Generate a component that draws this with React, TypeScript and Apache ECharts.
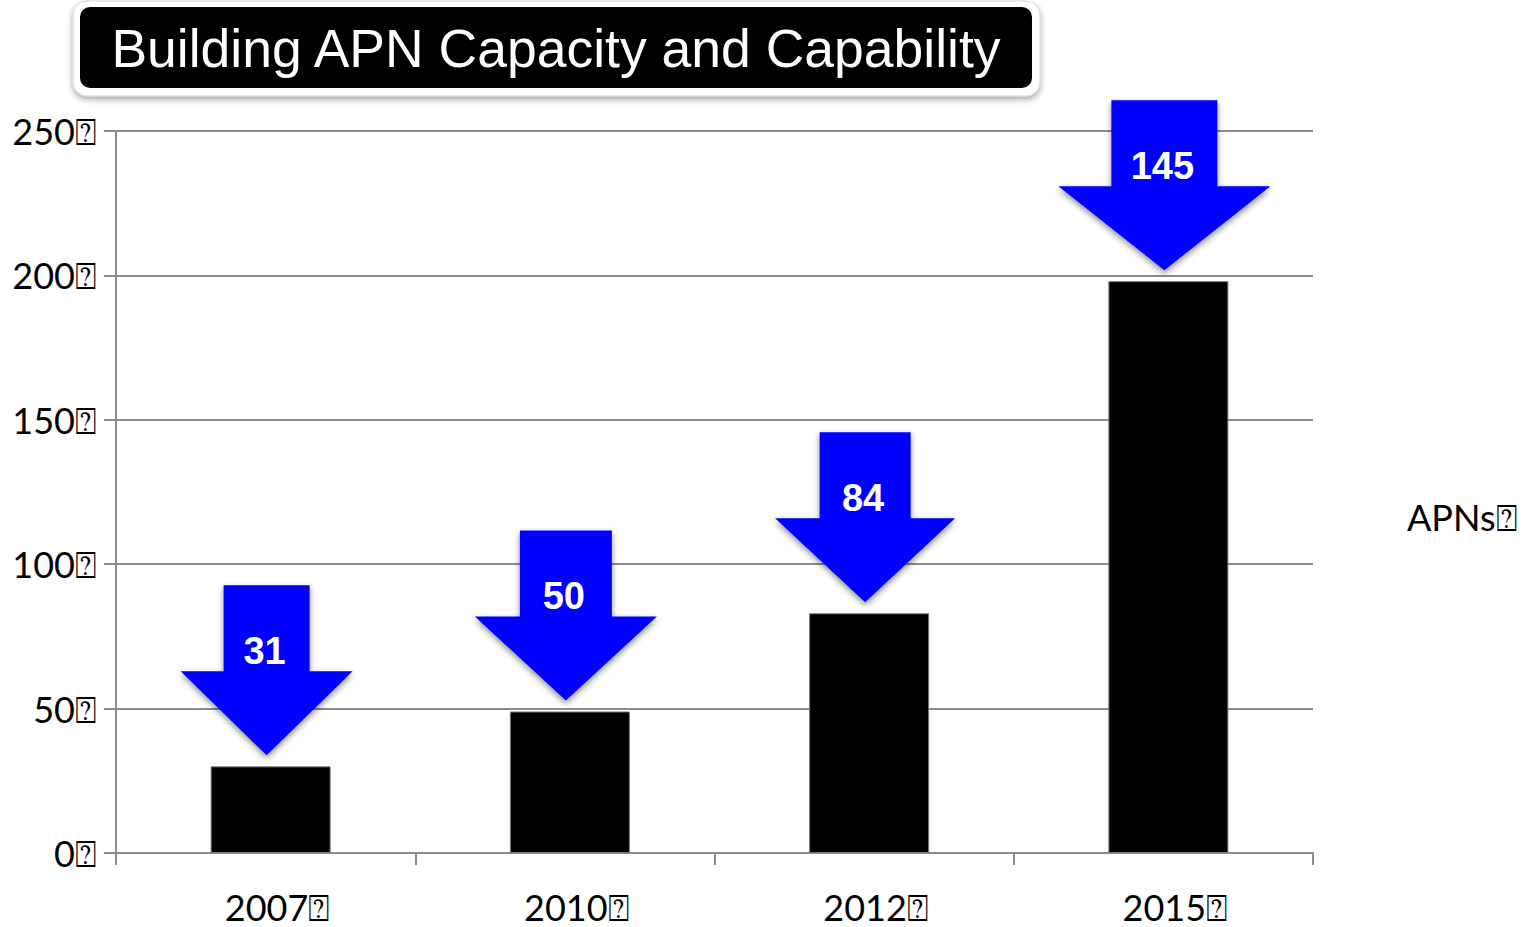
import React, { useEffect, useRef } from "react";
import * as echarts from "echarts";

const BOX = "\u2370";
const categories = ["2007" + BOX, "2010" + BOX, "2012" + BOX, "2015" + BOX];
const apnCounts = [30, 49, 83, 198];
const arrowLabels = [31, 50, 84, 145];
const seriesName = "APNs" + BOX;
const titleText = "Building APN Capacity and Capability";

// arrow styling (sizes in px, not data)
const headWidths = [172, 182, 180, 212];
const shaftWidths = [86, 92, 91, 106];

export default function App() {
  const ref = useRef<HTMLDivElement>(null);
  useEffect(() => {
    const chart = echarts.init(ref.current!, null, { renderer: "svg" });
    const axisFont = "Lato";
    chart.setOption({
      animation: false,
      backgroundColor: "#ffffff",
      grid: { left: 116, right: 211, top: 131, bottom: 74, containLabel: false },
      legend: {
        show: true,
        data: [seriesName],
        left: 1396,
        top: 494,
        itemWidth: 0,
        itemHeight: 0,
        icon: "rect",
        textStyle: { fontFamily: axisFont, fontSize: 36, color: "#000" },
      },
      xAxis: {
        type: "category",
        data: categories,
        boundaryGap: true,
        axisLine: { show: true, lineStyle: { color: "#8c8c8c", width: 2 } },
        axisTick: { show: true, length: 12, lineStyle: { color: "#8c8c8c", width: 2 } },
        axisLabel: {
          fontFamily: axisFont,
          fontSize: 36,
          lineHeight: 34,
          color: "#000",
          margin: 37,
          padding: [0, 0, 0, 24],
        },
        splitLine: { show: false },
      },
      yAxis: {
        type: "value",
        min: 0,
        max: 250,
        interval: 50,
        axisLine: { show: true, lineStyle: { color: "#8c8c8c", width: 2 } },
        axisTick: { show: true, length: 12, lineStyle: { color: "#8c8c8c", width: 2 } },
        axisLabel: {
          fontFamily: axisFont,
          fontSize: 36,
          lineHeight: 36,
          color: "#000",
          margin: 19,
          padding: [8, 0, 0, 0],
          formatter: (v: number) => v + BOX,
        },
        splitLine: { show: true, lineStyle: { color: "#8c8c8c", width: 2 } },
      },
      graphic: [
        {
          type: "rect",
          shape: { x: 73, y: 1, width: 967, height: 95, r: 14 },
          style: {
            fill: "#ffffff",
            stroke: "#d8d8d8",
            lineWidth: 1,
            shadowBlur: 6,
            shadowColor: "rgba(0,0,0,0.35)",
            shadowOffsetY: 3,
          },
          z: 10,
        },
        {
          type: "rect",
          shape: { x: 80, y: 7, width: 952, height: 81, r: 10 },
          style: { fill: "#000000" },
          z: 11,
        },
        {
          type: "text",
          x: 556,
          y: 48,
          style: {
            text: titleText,
            fill: "#ffffff",
            font: '53.5px "Liberation Sans", Arial, sans-serif',
            align: "center",
            verticalAlign: "middle",
          },
          z: 12,
        },
      ],
      series: [
        {
          name: "spacer",
          type: "bar",
          data: categories.map(() => "-"),
          barWidth: 10,
          barGap: 0,
          silent: true,
        },
        {
          name: seriesName,
          type: "bar",
          data: apnCounts,
          barWidth: 120,
          barGap: 0,
          itemStyle: { color: "#000000", borderColor: "#777777", borderWidth: 1 },
          z: 2,
        },
        {
          name: "arrows",
          type: "custom",
          data: categories.map((c, i) => [i, apnCounts[i], arrowLabels[i]]),
          encode: { x: 0, y: 1 },
          clip: false,
          z: 5,
          renderItem: (params: any, api: any) => {
            const i = params.dataIndex;
            const p = api.coord([api.value(0), api.value(1)]);
            const cx = p[0] + 1;
            const tipY = p[1] - 11;
            const hw = headWidths[i] / 2;
            const sw = shaftWidths[i] / 2;
            const headH = 84;
            const shaftH = 86;
            const top = tipY - headH - shaftH;
            const headTop = tipY - headH;
            return {
              type: "group",
              children: [
                {
                  type: "polygon",
                  shape: {
                    points: [
                      [cx - sw, top],
                      [cx + sw, top],
                      [cx + sw, headTop],
                      [cx + hw, headTop],
                      [cx, tipY],
                      [cx - hw, headTop],
                      [cx - sw, headTop],
                    ],
                  },
                  style: {
                    fill: "#0000ff",
                    shadowBlur: 6,
                    shadowColor: "rgba(0,0,0,0.45)",
                    shadowOffsetY: 3,
                  },
                },
                {
                  type: "text",
                  style: {
                    text: String(api.value(2)),
                    x: cx - 2,
                    y: top + 66,
                    align: "center",
                    verticalAlign: "middle",
                    fill: "#ffffff",
                    font: 'bold 38px "Liberation Sans", Arial, sans-serif',
                  },
                },
              ],
            };
          },
        },
      ],
    });
    return () => chart.dispose();
  }, []);
  return (
    <div
      ref={ref}
      style={{ position: "fixed", left: 0, top: 0, width: 1524, height: 927 }}
    />
  );
}
